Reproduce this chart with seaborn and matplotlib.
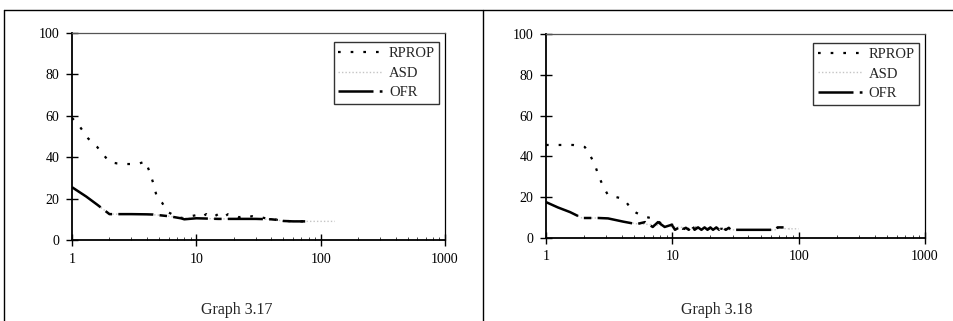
import numpy as np
import pandas as pd
import matplotlib
matplotlib.use("Agg")
import matplotlib.pyplot as plt
import seaborn as sns
from matplotlib.lines import Line2D
from matplotlib.ticker import FixedLocator, FixedFormatter, LogLocator, NullFormatter

# ---------------- data: Graph 3.17 ----------------
rprop_l_x = [1, 1.16, 1.35, 1.59, 1.8, 2.0, 2.3, 2.7, 3.1, 3.5, 3.9, 4.2, 4.5, 4.8, 5.3, 5.9, 7.1, 8.0, 9.0,
             10, 11, 12, 13, 14, 15, 16, 17, 18, 20, 22, 24, 26, 28, 30, 33, 36, 40, 45, 50, 60, 75]
rprop_l_y = [59, 54.6, 49, 45, 41, 37.7, 37, 36.7, 36.7, 37, 38, 33, 27.5, 21, 18, 13.5, 11, 10.5, 11.5,
             12, 11, 12.5, 11, 11.5, 12.5, 11, 11.5, 12.5, 12, 11, 11.5, 11, 11.5, 11, 11, 10.5, 10.2, 9.7, 9.3, 9, 9]

asd_l_x = [1, 1.3, 1.6, 2.0, 3.0, 4.0, 5.0, 6.0, 7.5, 10, 15, 20, 30, 40, 50, 75, 100, 130]
asd_l_y = [25, 21, 17, 12.5, 12.5, 12.4, 12, 11.5, 10.5, 10.5, 10.2, 10.2, 10, 10, 9.2, 9, 9, 9]

ofr_l_x = [1, 1.3, 1.6, 2.0, 3.0, 4.0, 4.5, 5.0, 6.0, 7.5, 8.0, 10, 15, 20, 30, 40, 45, 50, 60, 75]
ofr_l_y = [25.5, 21, 17, 12.5, 12.5, 12.4, 12.3, 12, 11.5, 10.5, 10, 10.5, 10.2, 10.2, 10.2, 10, 9.7, 9.2, 9, 9]

# ---------------- data: Graph 3.18 ----------------
rprop_r_x = [1, 1.34, 1.64, 2.03, 2.23, 2.44, 2.63, 2.88, 3.1, 3.85, 4.2, 4.8, 5.2, 6.2, 7.3, 8.0, 9.0, 10,
             12, 15, 20, 25, 30]
rprop_r_y = [45.6, 45.6, 45.6, 44.6, 40.7, 35.8, 29.9, 24.5, 21, 19.6, 18.6, 13.7, 12.3, 10.3, 9.3, 7.5, 6, 6.5,
             4.5, 5, 4.5, 4.5, 4]

asd_r_x = [1, 1.24, 1.55, 1.93, 2.6, 3.1, 4.1, 5.2, 7, 10, 15, 20, 30, 50, 65, 70, 80, 100]
asd_r_y = [17.6, 15, 12.7, 9.8, 9.8, 9.6, 8, 7, 6.5, 5.5, 4.8, 4.5, 4, 4, 4, 5, 4.5, 4.5]

ofr_r_x = [1, 1.24, 1.55, 1.93, 2.6, 3.1, 4.1, 5.2, 6.1, 7.0, 7.7, 8.7, 9.9, 10.5, 11.2, 12, 12.8, 13.5, 14.3,
           15, 16, 17, 18, 19, 20, 21, 22.3, 23.5, 25, 26.5, 28, 29, 40, 50, 66, 68, 78, 85]
ofr_r_y = [17.6, 15, 12.7, 9.8, 9.8, 9.6, 8, 6.8, 7.8, 5.4, 7.8, 5.4, 6.5, 4, 5, 4, 5, 4, 6.3,
           4, 5.2, 4, 5.2, 4, 5.2, 4, 5.2, 4, 5.2, 4, 5, 4, 4, 4, 4, 5.2, 5.2, 4.5]

series_names = ["RPROP", "ASD", "OFR"]
y_ticks = [0, 20, 40, 60, 80, 100]
x_ticks = [1, 10, 100, 1000]
x_tick_labels = ["1", "10", "100", "1000"]
titles = ["Graph 3.17", "Graph 3.18"]

sns.set_style("white")
plt.rcParams["font.family"] = ["Liberation Serif", "DejaVu Serif"]

fig = plt.figure(figsize=(9.54, 3.21), dpi=100)

ax_l = fig.add_axes([0.0755, 0.2523, 0.391, 0.645])
ax_r = fig.add_axes([0.5723, 0.2586, 0.3973, 0.6355])

styles = {
    "RPROP": dict(color="black", linestyle=(0, (1.2, 4.5)), linewidth=1.6),
    "ASD": dict(color="#c4c4c4", linestyle=(0, (1, 1.5)), linewidth=1.0),
    "OFR": dict(color="black", linestyle=(0, (14, 2.5, 3, 2.5)), linewidth=1.8),
}

panels = [
    (ax_l, [(rprop_l_x, rprop_l_y), (asd_l_x, asd_l_y), (ofr_l_x, ofr_l_y)], titles[0]),
    (ax_r, [(rprop_r_x, rprop_r_y), (asd_r_x, asd_r_y), (ofr_r_x, ofr_r_y)], titles[1]),
]

for ax, data, title in panels:
    for name, (xs, ys) in zip(series_names, data):
        df = pd.DataFrame({"x": xs, "y": ys})
        sns.lineplot(data=df, x="x", y="y", ax=ax, label=name, sort=False, **styles[name])
    ax.set_xscale("log")
    ax.set_xlim(1, 1000)
    ax.set_ylim(0, 100)
    ax.xaxis.set_major_locator(FixedLocator(x_ticks))
    ax.xaxis.set_major_formatter(FixedFormatter(x_tick_labels))
    ax.xaxis.set_minor_locator(LogLocator(base=10, subs=np.arange(2, 10)))
    ax.xaxis.set_minor_formatter(NullFormatter())
    ax.set_yticks(y_ticks)
    ax.set_xlabel("")
    ax.set_ylabel("")
    ax.tick_params(axis="both", which="major", direction="inout", length=8, width=1.0,
                   labelsize=10, colors="black", pad=5, left=True, bottom=True)
    ax.tick_params(axis="x", which="minor", direction="in", length=2.5, width=0.6, bottom=True)
    for side, sp in ax.spines.items():
        sp.set_visible(True)
        sp.set_color("black")
        sp.set_linewidth(0.9)
    ax.spines["left"].set_linewidth(1.3)
    ax.spines["bottom"].set_linewidth(1.3)
    ax.spines["top"].set_color("#555555")
    leg = ax.legend(loc="upper right", bbox_to_anchor=(0.985, 0.955), frameon=True, fancybox=False,
                    edgecolor="black", fontsize=10.5, handlelength=3.0, handletextpad=0.5,
                    borderpad=0.3, labelspacing=0.45, borderaxespad=0)
    leg.get_frame().set_linewidth(1.0)
    ax.set_facecolor("white")

fig.text(0.2484, 0.008, titles[0], ha="center", va="bottom", fontsize=11.5)
fig.text(0.7516, 0.008, titles[1], ha="center", va="bottom", fontsize=11.5)

# page frame lines
fig.add_artist(Line2D([4 / 954, 1.0], [1 - 10 / 321, 1 - 10 / 321], color="black", linewidth=1.0,
                      transform=fig.transFigure))
fig.add_artist(Line2D([4 / 954, 4 / 954], [0, 1 - 10 / 321], color="black", linewidth=1.0,
                      transform=fig.transFigure))
fig.add_artist(Line2D([483 / 954, 483 / 954], [0, 1 - 10 / 321], color="black", linewidth=1.0,
                      transform=fig.transFigure))

fig.savefig("out.png", dpi=100, facecolor="white")
